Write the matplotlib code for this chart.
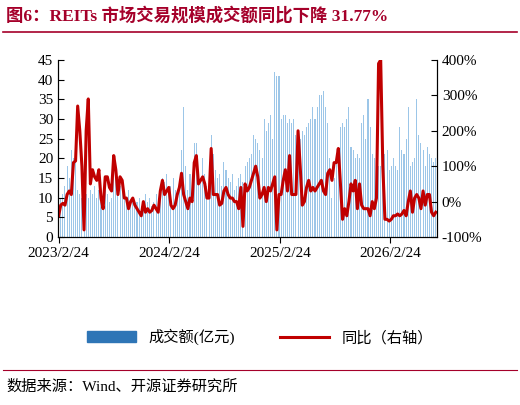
import matplotlib
matplotlib.use("Agg")
import matplotlib.pyplot as plt
import numpy as np
import pandas as pd
from matplotlib.patches import Patch

plt.rcParams['font.family'] = ['Liberation Serif', 'Noto Sans CJK SC']

tick_labels = ["2023/2/24", "2024/2/24", "2025/2/24", "2026/2/24"]
yoy = [-40, -10, -5, -10, 20, 30, 20, 110, 115, 270, 200, 100, -80, 200, 290, 50, 90, 70, 60, 90, 10, -20, 70, 70, 40, 30,
       130, 90, 20, 70, 60, 10, 10, -20, 0, 10, -10, -20, -30, -40, 0, -30, -20, -30, -25, -10, -20, -30, 30, 60, 20, 30,
       40, -10, -20, -10, 20, 40, 80, 20, 0, -20, 10, 0, 110, 130, 50, 60, 70, 50, 10, 10, 150, 20, 20, 20, -10, -5,
       30, 40, 20, 10, 10, 0, 0, -20, 40, -70, 50, 30, 40, 60, 80, 100, 70, 10, 20, 40, 0, 40, 30, 50, 70, -80,
       20, 20, 60, 90, 30, 130, 20, 20, 20, 200, 100, -10, 0, 40, 60, 30, 40, 30, 40, 50, 60, 30, 20, 80, 90, 60,
       110, 110, 150, 50, -50, -20, -40, 0, 50, 30, 60, -20, 50, -10, -20, -20, -20, -40, 0, -20, 10, 390, 400, 100, -50, -50,
       -55, -50, -40, -40, -35, -40, -35, -25, -40, 0, 30, -30, 10, 20, 10, -20, 30, -10, 20, 20, -30, -40, -30]
amount = [12, 10, 11, 13, 18, 15, 22, 20, 25, 12, 11, 10, 15, 11, 10, 12, 11, 13, 10, 12, 9, 8, 12, 11, 9, 10,
          20, 16, 14, 13, 12, 11, 10, 12, 9, 10, 8, 9, 10, 8, 7, 11, 9, 10, 8, 9, 11, 9, 12, 15, 14, 16,
          12, 13, 15, 12, 11, 13, 22, 33, 18, 12, 16, 15, 24, 24, 17, 14, 20, 16, 13, 19, 26, 21, 17, 15, 16, 13,
          19, 17, 15, 14, 16, 12, 13, 15, 16, 14, 18, 19, 20, 21, 26, 25, 24, 22, 20, 30, 27, 29, 31, 25,
          42, 41, 41, 30, 31, 31, 29, 30, 29, 30, 26, 24, 25, 27, 26, 28, 29, 30, 33, 30, 33, 36, 36, 37, 33, 29,
          20, 10, 15, 20, 21, 28, 29, 28, 30, 33, 23, 22, 20, 21, 20, 29, 31, 25, 35, 28, 21, 20, 20, 18, 18, 17,
          21, 22, 17, 18, 20, 18, 17, 28, 22, 21, 25, 33, 18, 19, 20, 35, 26, 24, 22, 18, 23, 21, 20, 19, 20]
dates = pd.date_range("2023-02-24", periods=len(yoy), freq="7D")

fig = plt.figure(figsize=(5.2, 4.05), dpi=100)
ax = fig.add_axes([58/520, 1-237/405, 379/520, 177/405])
ax.bar(dates, amount, width=3.5, color='#9cc6e8', label='成交额(亿元)')
ax.set_ylim(0, 45)
ax.set_yticks(range(0, 46, 5))
ax.set_xlim(dates[0] - pd.Timedelta(days=2), dates[-1] + pd.Timedelta(days=4))
ax.set_xticks(pd.to_datetime(["2023-02-24", "2024-02-24", "2025-02-24", "2026-02-24"]))
ax.set_xticklabels(tick_labels)
ax2 = ax.twinx()
ax2.plot(dates, yoy, color='#C00000', lw=2.2, label='同比（右轴）')
ax2.set_ylim(-100, 400)
ax2.set_yticks(range(-100, 401, 100))
ax2.set_yticklabels([f"{v}%" for v in range(-100, 401, 100)])
for a in (ax, ax2):
    a.spines['top'].set_visible(False)
    a.tick_params(labelsize=11, direction='in', length=4)
ax.tick_params(axis='x', direction='out')

h1, l1 = ax.get_legend_handles_labels()
h2, l2 = ax2.get_legend_handles_labels()
fig.legend([Patch(color='#2E75B6'), h2[0]], [l1[0], l2[0]], loc='center', bbox_to_anchor=(0.5, 1-337/405),
           ncol=2, frameon=False, fontsize=11, handlelength=3.2, columnspacing=3)

fig.text(0.012, 1-16/405, "图6：REITs 市场交易规模成交额同比下降 31.77%", fontsize=12.5, fontweight='bold',
         color='#A5002A', va='center')
fig.add_artist(plt.Line2D([0.005, 0.995], [1-32/405, 1-32/405], color='#A5002A', lw=1.2))
fig.add_artist(plt.Line2D([0.005, 0.995], [1-370/405, 1-370/405], color='#A5002A', lw=0.8))
fig.text(0.012, 1-387/405, "数据来源：Wind、开源证券研究所", fontsize=11, va='center')
fig.savefig("out.png", dpi=100)
